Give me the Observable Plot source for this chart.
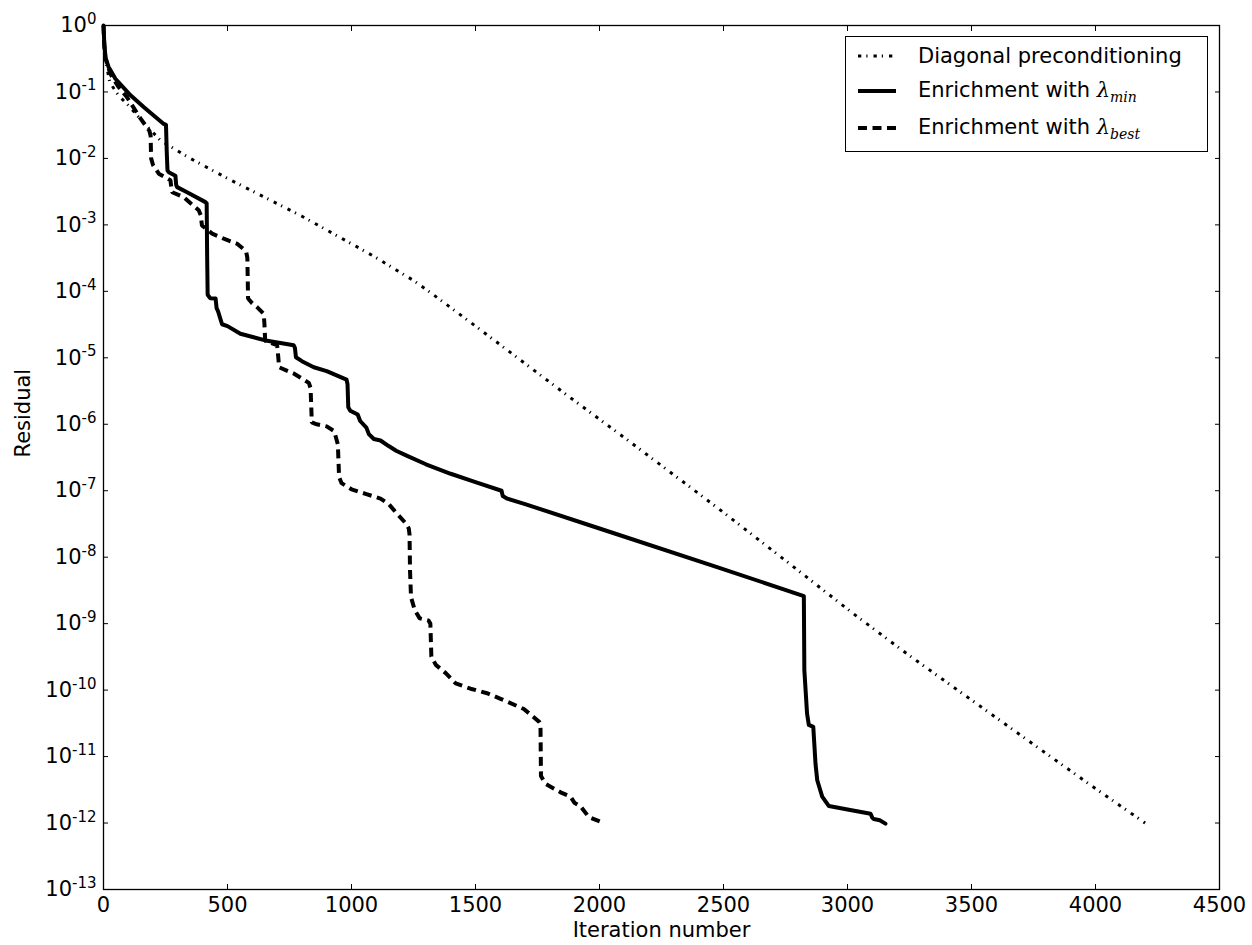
<!DOCTYPE html>
<html>
<head>
<meta charset="utf-8">
<script src="https://cdn.jsdelivr.net/npm/d3@7"></script>
<script src="https://cdn.jsdelivr.net/npm/@observablehq/plot@0.6"></script>
<style>
  body { margin: 0; background: #fff; }
  #wrap { position: relative; width: 1252px; height: 945px; font-family: "DejaVu Sans", sans-serif; }
  #legend { position: absolute; left: 845px; top: 36px; width: 363px; height: 116px;
            border: 1px solid #000; background: #fff; box-sizing: border-box; }
  .row { position: absolute; left: 0; height: 30px; display: flex; align-items: center; font-size: 21px; color: #000; }
  .row svg { margin-left: 12px; margin-right: 22px; }
  .m { font-family: "DejaVu Serif", serif; font-style: italic; }
  .m sub { font-size: 14px; vertical-align: -5px; }
</style>
</head>
<body>
<div id="wrap"></div>
<script>
// Axis ticks
const xTicks = [0, 500, 1000, 1500, 2000, 2500, 3000, 3500, 4000, 4500];
const yExponents = [0, -1, -2, -3, -4, -5, -6, -7, -8, -9, -10, -11, -12, -13];

// Series labels
const seriesNames = ["Diagonal preconditioning", "Enrichment with λmin", "Enrichment with λbest"];

// Diagonal preconditioning: iteration / residual
const diagIter = [0, 4, 10, 25, 60, 100, 160, 230, 350, 500, 650, 800, 1000, 1100, 1180, 1251, 1330, 1500, 1883, 2100, 2474, 2750, 3025, 3250, 3500, 3800, 4000, 4200];
const diagRes  = [1.0, 4.5e-1, 2.8e-1, 1.4e-1, 8.9e-2, 6.3e-2, 3.5e-2, 1.86e-2, 1.0e-2, 5.0e-3, 2.6e-3, 1.35e-3, 5.2e-4, 3.2e-4, 2.1e-4, 1.45e-4, 8.9e-5, 3.0e-5, 2.5e-6, 6.3e-7, 5.6e-8, 8.9e-9, 1.4e-9, 3.3e-10, 7.1e-11, 1.12e-11, 3.3e-12, 1.0e-12];

// Enrichment with lambda_min
const minIter = [0, 3, 8, 20, 48, 109, 163, 243, 252, 255, 258, 263, 290, 293, 297, 337, 411, 416, 418, 420, 430, 452, 456, 462, 478, 500, 552, 660, 767, 772, 776, 800, 848, 900, 980, 984, 987, 995, 1025, 1035, 1060, 1070, 1090, 1117, 1150, 1180, 1220, 1300, 1400, 1500, 1605, 1610, 1628, 1700, 2000, 2474, 2824, 2826, 2837, 2844, 2862, 2866, 2871, 2878, 2898, 2925, 3000, 3093, 3100, 3106, 3130, 3153];
const minRes  = [1.0, 5.6e-1, 3.3e-1, 2.4e-1, 1.58e-1, 8.9e-2, 5.9e-2, 3.3e-2, 3.2e-2, 1.26e-2, 6.6e-3, 6.2e-3, 5.5e-3, 4.0e-3, 3.7e-3, 3.1e-3, 2.2e-3, 2.1e-3, 3.2e-4, 8.9e-5, 7.9e-5, 7.8e-5, 5.6e-5, 5.0e-5, 3.2e-5, 3.0e-5, 2.3e-5, 1.8e-5, 1.55e-5, 1.4e-5, 1.02e-5, 8.9e-6, 7.2e-6, 6.3e-6, 4.7e-6, 4.0e-6, 1.8e-6, 1.6e-6, 1.4e-6, 1.12e-6, 8.9e-7, 7.1e-7, 6.0e-7, 5.7e-7, 4.7e-7, 4.0e-7, 3.4e-7, 2.5e-7, 1.8e-7, 1.35e-7, 1.0e-7, 8.3e-8, 7.6e-8, 6.3e-8, 2.7e-8, 7.1e-9, 2.6e-9, 2.0e-10, 4.4e-11, 3.0e-11, 2.8e-11, 1.6e-11, 7.8e-12, 4.4e-12, 2.5e-12, 1.8e-12, 1.6e-12, 1.38e-12, 1.2e-12, 1.15e-12, 1.1e-12, 9.8e-13];

// Enrichment with lambda_best
const bestIter = [0, 3, 8, 28, 60, 95, 149, 185, 190, 192, 200, 223, 270, 274, 277, 324, 384, 392, 397, 438, 485, 539, 575, 580, 583, 600, 619, 646, 649, 652, 700, 705, 708, 767, 828, 835, 840, 860, 900, 930, 945, 950, 960, 1000, 1060, 1117, 1150, 1184, 1220, 1231, 1234, 1236, 1240, 1255, 1275, 1310, 1318, 1322, 1340, 1380, 1420, 1480, 1550, 1601, 1695, 1735, 1758, 1762, 1764, 1782, 1843, 1883, 1900, 1923, 1957, 2011];
const bestRes  = [1.0, 5.0e-1, 3.2e-1, 1.86e-1, 1.2e-1, 8.3e-2, 4.0e-2, 2.6e-2, 2.2e-2, 1.0e-2, 7.9e-3, 5.9e-3, 4.7e-3, 3.5e-3, 3.1e-3, 2.6e-3, 1.66e-3, 1.4e-3, 9.8e-4, 7.4e-4, 6.2e-4, 5.2e-4, 4.0e-4, 3.2e-4, 7.8e-5, 6.6e-5, 5.8e-5, 4.6e-5, 3.2e-5, 1.8e-5, 1.55e-5, 1.0e-5, 7.2e-6, 5.8e-6, 4.2e-6, 3.5e-6, 1.07e-6, 1.0e-6, 9.3e-7, 7.9e-7, 5.0e-7, 1.6e-7, 1.3e-7, 1.05e-7, 8.9e-8, 7.6e-8, 6.3e-8, 4.5e-8, 3.2e-8, 2.7e-8, 2.2e-8, 6.3e-9, 2.5e-9, 1.6e-9, 1.2e-9, 1.12e-9, 1.0e-9, 3.2e-10, 2.4e-10, 1.8e-10, 1.26e-10, 1.05e-10, 8.9e-11, 7.4e-11, 5.2e-11, 3.9e-11, 3.3e-11, 3.1e-11, 5.1e-12, 3.9e-12, 2.9e-12, 2.5e-12, 2.0e-12, 1.8e-12, 1.23e-12, 1.02e-12];

// Line styles
const DASHDOT = "3.3,5,1.2,6";
const DASHED = "9,5.5";

const toRows = (iters, res) => iters.map((it, i) => ({iter: it, res: res[i]}));
const diag = toRows(diagIter, diagRes);
const lmin = toRows(minIter, minRes);
const lbest = toRows(bestIter, bestRes);
const yTicks = yExponents.map(e => Math.pow(10, e));

const chart = Plot.plot({
  width: 1252,
  height: 945,
  marginLeft: 103,
  marginRight: 33,
  marginTop: 25,
  marginBottom: 56,
  style: {fontFamily: "DejaVu Sans, sans-serif", fontSize: "21px", color: "#000", background: "#fff"},
  x: {domain: [0, 4500], label: null},
  y: {type: "log", domain: [1e-13, 1], label: null},
  marks: [
    Plot.line(diag, {x: "iter", y: "res", stroke: "#000", strokeWidth: 3, strokeDasharray: DASHDOT, strokeLinecap: "butt"}),
    Plot.line(lbest, {x: "iter", y: "res", stroke: "#000", strokeWidth: 4, strokeDasharray: DASHED, strokeLinecap: "butt", strokeLinejoin: "miter"}),
    Plot.line(lmin, {x: "iter", y: "res", stroke: "#000", strokeWidth: 4, strokeLinejoin: "round"}),
    // inward tick marks on all four sides
    Plot.axisX(xTicks, {anchor: "bottom", tickSize: 5, dy: -5, tickFormat: () => "", label: null}),
    Plot.axisX(xTicks, {anchor: "top", tickSize: 5, dy: 5, tickFormat: () => "", label: null}),
    Plot.axisY(yTicks, {anchor: "left", tickSize: 5, dx: 5, tickFormat: () => "", label: null}),
    Plot.axisY(yTicks, {anchor: "right", tickSize: 5, dx: -5, tickFormat: () => "", label: null}),
    // tick labels
    Plot.axisX(xTicks, {anchor: "bottom", tickSize: 0, tickPadding: 8, label: null, fontSize: 21,
      tickFormat: d => String(d)}),
    Plot.axisY(yTicks, {anchor: "left", tickSize: 0, tickPadding: 7, label: null, fontSize: 21,
      tickFormat: d => String(Math.round(Math.log10(d)))}),
    Plot.frame({stroke: "#000", strokeWidth: 1.3}),
    // axis titles
    Plot.text(["Iteration number"], {frameAnchor: "bottom", dy: 41, fontSize: 21, lineAnchor: "middle"}),
    Plot.text(["Residual"], {frameAnchor: "left", dx: -80, rotate: -90, fontSize: 21, lineAnchor: "middle"})
  ]
});

// Render power-of-ten labels as 10 with a raised exponent
d3.select(chart).selectAll('g[aria-label="y-axis tick label"] text').each(function () {
  const exp = this.textContent;
  if (!exp) return;
  const t = d3.select(this);
  t.text(null);
  t.append("tspan").text("10");
  t.append("tspan").attr("dy", "-0.55em").attr("font-size", "15px").text(exp);
});

const wrap = document.getElementById("wrap");
wrap.appendChild(chart);

// Legend box
const legend = document.createElement("div");
legend.id = "legend";
const styles = [
  {dash: DASHDOT, width: 3},
  {dash: null, width: 4},
  {dash: DASHED, width: 4}
];
const subs = [null, "min", "best"];
const rowTops = [4, 39, 76];
seriesNames.forEach((name, i) => {
  const row = document.createElement("div");
  row.className = "row";
  row.style.top = rowTops[i] + "px";
  const sw = d3.create("svg").attr("width", 38).attr("height", 30);
  sw.append("line").attr("x1", 0).attr("x2", 38).attr("y1", 15).attr("y2", 15)
    .attr("stroke", "#000").attr("stroke-width", styles[i].width)
    .attr("stroke-dasharray", styles[i].dash);
  row.appendChild(sw.node());
  const label = document.createElement("span");
  if (subs[i]) {
    label.innerHTML = "Enrichment with <span class=\"m\">λ<sub>" + subs[i] + "</sub></span>";
  } else {
    label.textContent = name;
  }
  row.appendChild(label);
  legend.appendChild(row);
});
wrap.appendChild(legend);
</script>
</body>
</html>
